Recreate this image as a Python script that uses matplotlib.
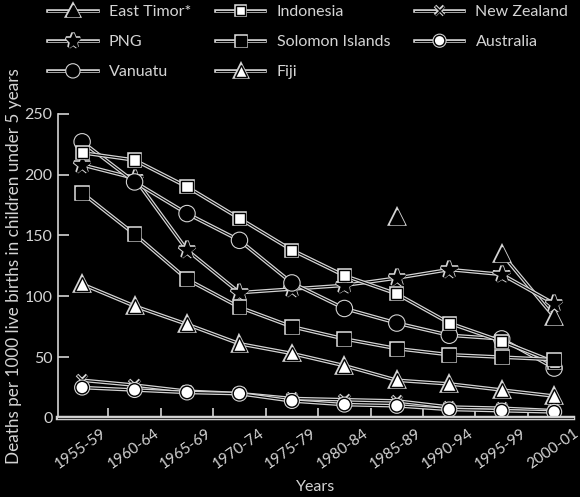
import numpy as np
import matplotlib
matplotlib.use('Agg')
import matplotlib.pyplot as plt
import matplotlib.patheffects as pe

nan = np.nan

# periods on the x axis
periods = ['1955-59', '1960-64', '1965-69', '1970-74', '1975-79',
           '1980-84', '1985-89', '1990-94', '1995-99', '2000-01']

# deaths per 1000 live births, under 5
east_timor = [nan, nan, nan, nan, nan, nan, 165, nan, 135, 83]
png = [208, 197, 138, 103, 106, 109, 115, 122, 118, 94]
vanuatu = [227, 194, 168, 146, 111, 90, 78, 68, 65, 41]
indonesia = [218, 212, 190, 164, 138, 117, 102, 78, 63, 46]
solomon = [185, 151, 114, 91, 75, 65, 57, 52, 50, 48]
fiji = [110, 92, 77, 61, 53, 43, 31, 28, 23, 18]
new_zealand = [31, 27, 22, 20, 16, 15, 14, 9, 8, 6]
australia = [25, 23, 21, 20, 14, 11, 10, 7, 6, 5]

light = '#d4d4d4'
plt.rcParams['font.family'] = ['Lato', 'DejaVu Sans']

fig = plt.figure(figsize=(5.8, 4.97), dpi=100, facecolor='black')
ax = fig.add_axes([0.1, 0.159, 0.888, 0.612])
ax.set_facecolor('black')

halo = [pe.Stroke(linewidth=2.6, foreground=light), pe.Normal()]
x = np.arange(len(periods))


def draw(vals, label, marker, face, ms):
    ax.plot(x, vals, color='black', lw=0.8, marker=marker, ms=ms,
            mfc=face, mec='black', mew=1.0, label=label, path_effects=halo,
            clip_on=False)


draw(east_timor, 'East Timor*', '^', 'black', 10)
draw(png, 'PNG', '*', 'black', 12.5)
draw(vanuatu, 'Vanuatu', 'o', 'black', 10)
draw(indonesia, 'Indonesia', 's', 'white', 8)
draw(solomon, 'Solomon Islands', 's', 'black', 8.5)
draw(fiji, 'Fiji', '^', 'white', 10)
draw(new_zealand, 'New Zealand', 'x', 'black', 7.5)
draw(australia, 'Australia', 'o', 'white', 9)

ax.set_xlim(-0.46, 9.32)
ax.set_ylim(0, 250)

ax.set_yticks([0, 50, 100, 150, 200, 250])
ax.tick_params(axis='y', direction='in', length=8, width=1.2, color=light,
               labelcolor=light, labelsize=11.5, pad=4)

# labels sit next to the points, ticks fall between the periods
ax.set_xticks(x + 0.36)
ax.set_xticklabels(periods, rotation=35, ha='right', va='top',
                   rotation_mode='anchor')
ax.set_xticks(x[:-1] + 0.5, minor=True)
ax.tick_params(axis='x', which='major', length=0, labelcolor=light,
               labelsize=11, pad=6)
ax.tick_params(axis='x', which='minor', direction='in', length=7, width=1.2,
               color=light)

for s in ['top', 'right']:
    ax.spines[s].set_visible(False)
ax.spines['left'].set_color(light)
ax.spines['left'].set_linewidth(1.2)
ax.spines['bottom'].set_color('#333333')
ax.spines['bottom'].set_linewidth(0.8)
ax.spines['bottom'].set_path_effects(
    [pe.Stroke(linewidth=3.2, foreground=light), pe.Normal()])

ax.set_xlabel('Years', color=light, fontsize=11.5, labelpad=6)
ax.set_ylabel('Deaths per 1000 live births in children under 5 years',
              color=light, fontsize=12.3, labelpad=2)

leg = fig.legend(loc='upper left', bbox_to_anchor=(0.083, 0.99), ncol=3,
                 frameon=False, fontsize=11.5, handlelength=3.1,
                 handletextpad=0.7, columnspacing=1.55, labelspacing=1.0,
                 borderpad=0, borderaxespad=0, markerscale=0.85,
                 labelcolor=light)

fig.savefig('out.png', dpi=100, facecolor='black')
